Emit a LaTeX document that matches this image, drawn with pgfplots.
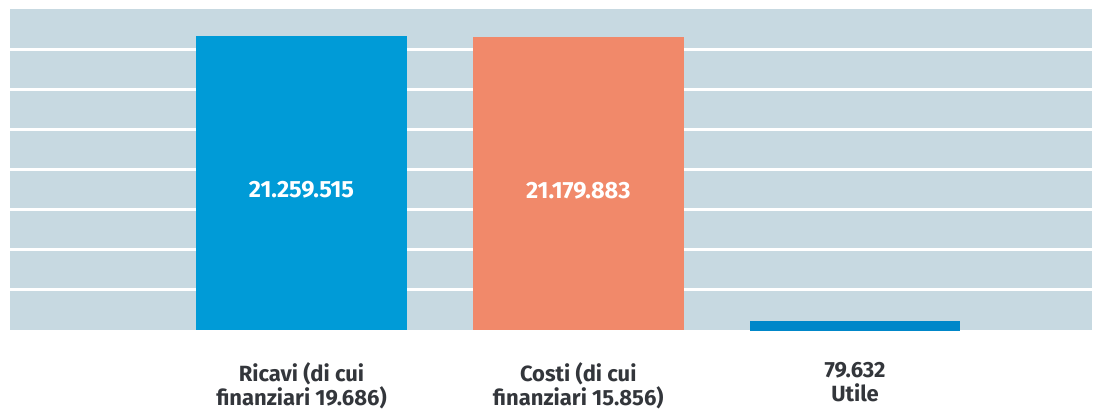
\documentclass[border=0pt]{standalone}
\usepackage{pgfplots}
\pgfplotsset{compat=1.18}
\usepackage{fontspec}
\setmainfont{Fira Sans}
\definecolor{bgcol}{HTML}{C7D9E1}
\definecolor{ricavi}{HTML}{009BD7}
\definecolor{costi}{HTML}{F1896A}
\definecolor{utile}{HTML}{0087C9}
\definecolor{txt}{HTML}{33363B}
\begin{document}
\begin{tikzpicture}
\begin{axis}[
  scale only axis,
  width=1082pt, height=321pt,
  xmin=-1.053, xmax=2.856,
  ymin=0, ymax=23200000,
  scaled y ticks=false,
  axis background/.style={fill=bgcol},
  axis line style={draw=none},
  major tick length=0pt,
  ytick={2900000,5800000,8700000,11600000,14500000,17400000,20300000},
  yticklabels={},
  ymajorgrids,
  grid style={white, line width=3pt},
  xtick={0,1,2},
  xticklabels={{Ricavi (di cui\\finanziari 19.686)},{Costi (di cui\\finanziari 15.856)},{79.632\\Utile}},
  xticklabel style={align=center, font=\fontsize{22}{24}\selectfont\bfseries, text=txt, yshift=-29pt},
  ybar, bar shift=0pt,
  nodes near coords style={anchor=center, text=white, font=\fontsize{23.5}{26}\selectfont\bfseries},
  visualization depends on={y \as \rawy},
]
\addplot[fill=ricavi, draw=none, bar width=211pt,
  nodes near coords={21.259.515},
  every node near coord/.append style={anchor=center, shift={(axis direction cs:0,-\rawy/2)}, yshift=-7pt}]
  coordinates {(0,21259515)};
\addplot[fill=costi, draw=none, bar width=211pt,
  nodes near coords={21.179.883},
  every node near coord/.append style={anchor=center, shift={(axis direction cs:0,-\rawy/2)}, yshift=-7pt}]
  coordinates {(1,21179883)};
\addplot[fill=utile, draw=utile, line width=15.8pt, bar width=195pt]
  coordinates {(2,79632)};
\end{axis}
\path ([xshift=-10pt,yshift=-77pt]current axis.south west) rectangle ([xshift=4pt,yshift=9pt]current axis.north east);
\end{tikzpicture}
\end{document}
